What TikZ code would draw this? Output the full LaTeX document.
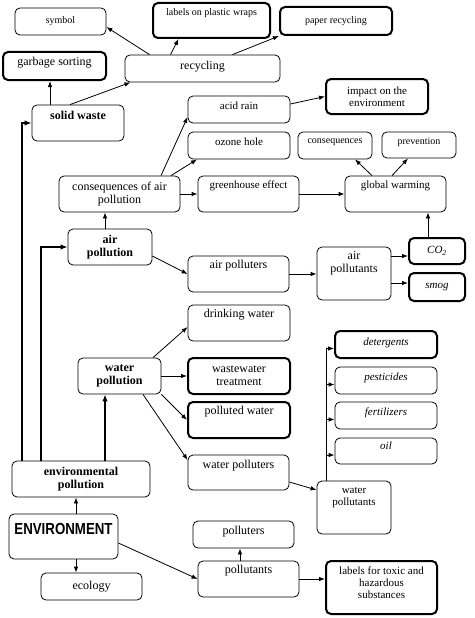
\documentclass[tikz,border=0pt]{standalone}
\usepackage{fontspec}
\setmainfont{Liberation Serif}
\newfontfamily\headfont{Liberation Sans}
\usepackage{graphicx}
\usetikzlibrary{arrows.meta}

\tikzset{
	box/.style={draw, rounded corners=5pt, line width=0.8pt, align=center, inner sep=1pt, font=\fontsize{12}{13}\selectfont},
	bold box/.style={box, line width=2pt},
	boxsize/.style 2 args={minimum width=#1pt, minimum height=#2pt},
	lift/.style={text depth=#1pt},
	small/.style={font=\fontsize{10}{11}\selectfont},
	mid/.style={font=\fontsize{11}{12}\selectfont},
	strong/.style={font=\fontsize{12}{13}\selectfont\bfseries},
	slant/.style={font=\fontsize{11}{12}\selectfont\itshape},
	heavy/.style={line width=2pt, >={Latex[length=7pt,width=5.5pt]}}
}

\begin{document}
\begin{tikzpicture}[x=1pt, y=-1pt, line width=0.8pt, >={Latex[length=6pt,width=4.5pt]}]
	\useasboundingbox (0,0) rectangle (474,618);
	%Riciclo
	\node[box, small, boxsize={91}{27}] (sym) at (60.5,21.5) {symbol};
	\node[bold box, small, boxsize={117}{35}, lift=16] (plastic) at (211.5,20.5) {labels on plastic wraps};
	\node[bold box, small, boxsize={112}{28}] (paper) at (336,21) {paper recycling};
	\node[bold box, boxsize={103}{28}, lift=8.6] (sort) at (54.5,66) {garbage sorting};
	\node[box, boxsize={155}{27}, lift=6.6] (rec) at (202.5,68.5) {recycling};
	\node[box, strong, boxsize={92}{36}, lift=14.6] (sw) at (78,123) {solid waste};
	%Inquinamento dell'aria
	\node[box, mid, boxsize={102}{27}, lift=7.4] (acid) at (239,109.5) {acid rain};
	\node[box, mid, boxsize={102}{27}, lift=8.4] (oz) at (239,145.5) {ozone hole};
	\node[bold box, mid, boxsize={102}{35}] (imp) at (377,96.5) {impact on the\\environment};
	\node[box, small, boxsize={74}{27}, lift=8.2] (cons) at (335,145.5) {consequences};
	\node[box, small, boxsize={74}{26}, lift=8.2] (prev) at (419,145) {prevention};
	\node[box, boxsize={121}{36}] (cap) at (119.5,194) {consequences of air\\pollution};
	\node[box, mid, boxsize={101}{36}, lift=18.4] (ghe) at (248.5,194) {greenhouse effect};
	\node[box, mid, boxsize={101}{36}, lift=18.4] (gw) at (395.5,194) {global warming};
	\node[box, strong, boxsize={84}{36}] (ap) at (110,247) {air\\pollution};
	\node[box, boxsize={101}{36}, lift=18.6] (aplr) at (238.5,274) {air polluters};
	\node[box, boxsize={74}{53}, lift=22.6] (apl) at (354,273.5) {air\\pollutants};
	\node[bold box, slant, boxsize={56}{26}] (co2) at (437,251) {CO\textsubscript{2}};
	\node[bold box, slant, boxsize={56}{28}] (smog) at (437,287) {smog};
	%Inquinamento dell'acqua
	\node[box, boxsize={102}{36}, lift=18.6] (dw) at (239,323) {drinking water};
	\node[box, strong, boxsize={83}{36}] (wp) at (119.5,376) {water\\pollution};
	\node[bold box, boxsize={102}{36}] (ww) at (239,376) {wastewater\\treatment};
	\node[bold box, boxsize={102}{36}, lift=18.6] (pw) at (239,420) {polluted water};
	\node[box, boxsize={101}{35}, lift=16.6] (wplr) at (238.5,472.5) {water polluters};
	\node[bold box, slant, boxsize={102}{27}, lift=6.4] (det) at (386,344.5) {detergents};
	\node[box, slant, boxsize={102}{27}, lift=8.4] (pest) at (386,380.5) {pesticides};
	\node[box, slant, boxsize={102}{27}, lift=8.4] (fert) at (386,415.5) {fertilizers};
	\node[box, slant, boxsize={102}{26}, lift=10.4] (oil) at (386,451) {oil};
	\node[box, mid, boxsize={74}{53}, lift=22.4] (wpl) at (354,507.5) {water\\pollutants};
	%Ambiente
	\node[box, strong, boxsize={138}{36}] (ep) at (81,479) {environmental\\pollution};
	\node[box, boxsize={109}{45}, lift=16] (env) at (63.5,536.5) {\scalebox{0.83}[1]{\headfont\bfseries\fontsize{16}{18}\selectfont ENVIRONMENT}};
	\node[box, boxsize={101}{27}] (eco) at (91.5,586.5) {ecology};
	\node[box, boxsize={101}{27}, lift=8.6] (plr) at (243.5,534.5) {polluters};
	\node[box, boxsize={101}{36}, lift=18.6] (pol) at (248.5,579) {pollutants};
	\node[bold box, mid, boxsize={111}{53}, lift=9] (tox) at (381.5,587.5) {labels for toxic and\\hazardous\\substances};
	%Frecce riciclo
	\draw[->] ([xshift=-53pt]rec.north) -- ([yshift=-5.5pt]sym.east);
	\draw[->] ([xshift=-32pt]rec.north) -- ([xshift=-33pt]plastic.south);
	\draw[->] ([xshift=30pt]rec.north) -- (paper.south west);
	\draw[->] ([xshift=-28pt]sw.north) -- ([xshift=-28pt]sw.north |- sort.south);
	\draw[->] ([xshift=-8pt]sw.north) -- ([xshift=-72pt]rec.south);
	%Frecce aria
	\draw[->] ([xshift=-5pt]ap.north) -- ([xshift=-5pt]ap.north |- cap.south);
	\draw[->] ([xshift=41.5pt]cap.north) -- ([yshift=-7.5pt]acid.west);
	\draw[->] ([xshift=51.5pt]cap.north) -- ([xshift=-42pt]oz.south);
	\draw[->] ([yshift=5.5pt]acid.east) -- (imp.west);
	\draw[->] (cap.east) -- (ghe.west);
	\draw[->] (ghe.east) -- (gw.west);
	\draw[->] ([xshift=-23.5pt]gw.north) -- ([xshift=20pt]cons.south);
	\draw[->] ([xshift=-3.5pt]gw.north) -- ([xshift=-11pt]prev.south);
	\draw[->] ([yshift=-9pt]ap.east) -- (aplr.west);
	\draw[->] (aplr.east) -- (aplr.east -| apl.west);
	\draw[->] ([yshift=17.5pt]apl.east) -- ([yshift=17.5pt]apl.east -| co2.west);
	\draw[->] ([yshift=-9.5pt]apl.east) -- ([yshift=-9.5pt]apl.east -| smog.west);
	\draw[->] ([xshift=-9pt]co2.north) -- ([xshift=-9pt]co2.north |- gw.south);
	%Frecce acqua
	\draw[->] ([xshift=33.5pt]wp.north) -- ([yshift=-4pt]dw.west);
	\draw[->] (wp.east) -- (ww.west);
	\draw[->] (wp.south east) -- (pw.west);
	\draw[->] ([xshift=23.5pt]wp.south) -- ([yshift=12.5pt]wplr.west);
	\draw[->] ([yshift=-9.5pt]wplr.east) -- ([yshift=17.5pt]wpl.west);
	\coordinate (trunk) at ([xshift=10pt]wpl.north west);
	\foreach \n in {det,pest,fert,oil}
		\draw[->] (trunk) |- ([yshift=-4pt]\n.west);
	%Frecce ambiente
	\draw[->] ([xshift=12.5pt]env.north) -- ([xshift=12.5pt]env.north |- ep.south);
	\draw[->] ([xshift=12.5pt]env.south) -- ([xshift=12.5pt]env.south |- eco.north);
	\draw[->] ([yshift=-6.5pt]env.east) -- (pol.west);
	\draw[->] ([xshift=-8.5pt]pol.north) -- ([xshift=-8.5pt]pol.north |- plr.south);
	\draw[->] (pol.east) -- (pol.east -| tox.west);
	\draw[->, heavy] ([xshift=-59pt]ep.north) |- (sw.west);
	\draw[->, heavy] ([xshift=-40pt]ep.north) |- (ap.west);
	\draw[->, heavy] ([xshift=24pt]ep.north) -- ([xshift=24pt]ep.north |- wp.south);
\end{tikzpicture}
\end{document}
